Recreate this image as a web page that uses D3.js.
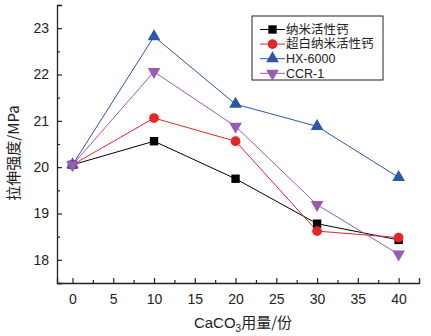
<!DOCTYPE html>
<html>
<head>
<meta charset="utf-8">
<script src="https://cdn.jsdelivr.net/npm/d3@7/dist/d3.min.js"></script>
<style>
  body { margin: 0; background: #fff; }
  svg text { font-family: "Liberation Sans", Arial, sans-serif; fill: #222; }
  .cjk { font-family: "Noto Sans CJK SC", "Liberation Sans", sans-serif; }
</style>
</head>
<body>
<div class="app"></div>
<script>
'use strict'

// CaCO3 用量 (份)
var amounts = [0, 10, 20, 30, 40];

var seriesNames = ["纳米活性钙", "超白纳米活性钙", "HX-6000", "CCR-1"];
var nanoActive = [20.05, 20.56, 19.75, 18.78, 18.43];
var superWhite = [20.05, 21.06, 20.56, 18.62, 18.48];
var hx6000 = [20.05, 22.82, 21.36, 20.88, 19.78];
var ccr1 = [20.05, 22.06, 20.88, 19.19, 18.12];

var xTicks = [0, 5, 10, 15, 20, 25, 30, 35, 40];
var yTicks = [18, 19, 20, 21, 22, 23];

var colors = ["#000000", "#e2262a", "#2a57a6", "#9a5bb4"];
var symbols = [d3.symbolSquare, d3.symbolCircle, d3.symbolTriangle, d3.symbolTriangle];
var allSeries = [nanoActive, superWhite, hx6000, ccr1];

var width = 431, height = 336;
var margin = { top: 5, right: 12, bottom: 53, left: 57 };
var innerW = width - margin.left - margin.right;
var innerH = height - margin.top - margin.bottom;

var x = d3.scaleLinear().domain([-1.9, 42.5]).range([0, innerW]);
var y = d3.scaleLinear().domain([17.5, 23.5]).range([innerH, 0]);

var svg = d3.select(".app").append("svg")
  .attr("width", width)
  .attr("height", height);

var g = svg.append("g")
  .attr("transform", "translate(" + margin.left + "," + margin.top + ")");

// x axis, ticks inward
var xAxis = g.append("g")
  .attr("transform", "translate(0," + innerH + ")")
  .call(d3.axisBottom(x).tickValues(xTicks).tickSize(-5).tickPadding(11).tickFormat(d3.format("d")));
xAxis.selectAll(".tick text").attr("font-size", 14);
g.append("g")
  .attr("transform", "translate(0," + innerH + ")")
  .call(d3.axisBottom(x).tickValues(d3.range(2.5, 42.5, 5)).tickSize(-3).tickFormat(""))
  .select(".domain").remove();

// y axis, ticks inward
var yAxis = g.append("g")
  .call(d3.axisLeft(y).tickValues(yTicks).tickSize(-5).tickPadding(8).tickFormat(d3.format("d")));
yAxis.selectAll(".tick text").attr("font-size", 14);
g.append("g")
  .call(d3.axisLeft(y).tickValues(d3.range(17.5, 23.6, 1)).tickSize(-3).tickFormat(""))
  .select(".domain").remove();

g.selectAll(".domain").attr("stroke", "#222").attr("stroke-width", 1.3);
g.selectAll(".tick line").attr("stroke", "#222").attr("stroke-width", 1.2);

var line = d3.line()
  .x(function(d, i) { return x(amounts[i]); })
  .y(function(d) { return y(d); });

function marker(sel, i, size) {
  sel.attr("d", d3.symbol().type(symbols[i]).size(size))
    .attr("fill", colors[i]);
  if (i === 3) sel.attr("transform", function() { return d3.select(this).attr("transform") + " rotate(180)"; });
}

allSeries.forEach(function(vals, i) {
  g.append("path")
    .attr("d", line(vals))
    .attr("fill", "none")
    .attr("stroke", colors[i])
    .attr("stroke-width", 1);
});

allSeries.forEach(function(vals, i) {
  g.selectAll(".m" + i)
    .data(vals)
    .enter().append("path")
    .attr("class", "m" + i)
    .attr("transform", function(d, j) { return "translate(" + x(amounts[j]) + "," + y(d) + ")"; })
    .call(marker, i, i === 1 ? 75 : 70);
});

// legend
var legend = svg.append("g").attr("transform", "translate(252,16)");
legend.append("rect")
  .attr("width", 131).attr("height", 64)
  .attr("fill", "#fff").attr("stroke", "#222").attr("stroke-width", 1);
seriesNames.forEach(function(name, i) {
  var row = legend.append("g").attr("transform", "translate(0," + (13.5 + i * 14.6) + ")");
  row.append("line")
    .attr("x1", 8).attr("x2", 33)
    .attr("stroke", colors[i]).attr("stroke-width", 1);
  row.append("path")
    .attr("transform", "translate(20.5,0)")
    .call(marker, i, i === 1 ? 75 : 70);
  row.append("text")
    .attr("class", i < 2 ? "cjk" : null)
    .attr("x", 34).attr("dy", "0.35em")
    .attr("font-size", 12.5)
    .text(name);
});

// axis titles
var xTitle = svg.append("text")
  .attr("x", 243).attr("y", 328)
  .attr("text-anchor", "middle")
  .attr("font-size", 15);
xTitle.append("tspan").text("CaCO");
xTitle.append("tspan").attr("font-size", 10).attr("dy", 4).text("3");
xTitle.append("tspan").attr("class", "cjk").attr("dy", -4).text("用量/份");

svg.append("text")
  .attr("class", "cjk")
  .attr("transform", "translate(19,153) rotate(-90)")
  .attr("text-anchor", "middle")
  .attr("font-size", 15)
  .text("拉伸强度/MPa");
</script>
</body>
</html>
